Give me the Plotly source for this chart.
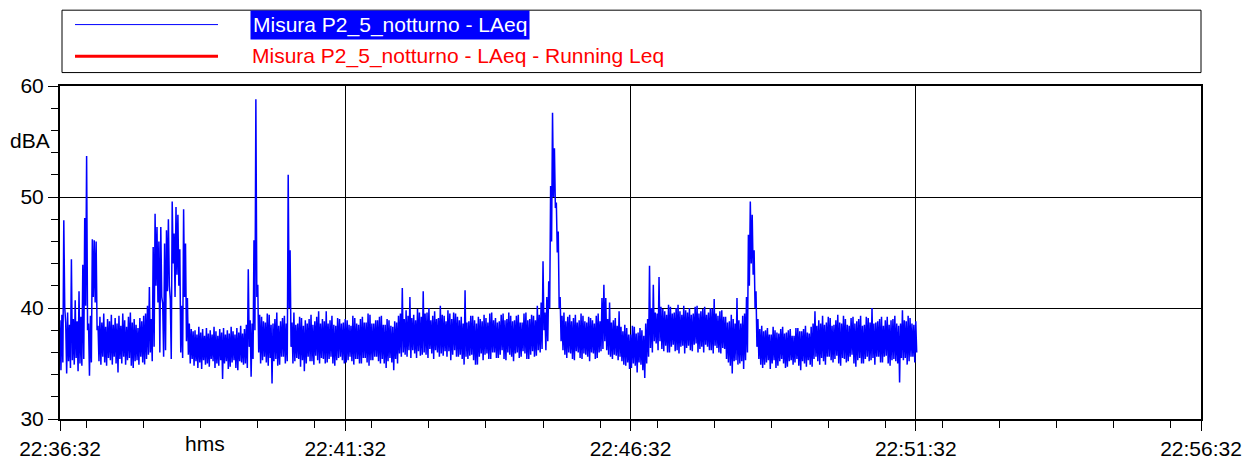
import plotly.graph_objects as go
import pandas as pd

# ---------------- data ----------------
start_time = "2024-01-01 22:36:32"
axis_end = "2024-01-01 22:56:32"
bin_s = 2  # each 2-s bin: upper reading then lower reading

laeq_hi = [
    38.9, 39.4, 47.9, 38.7, 39.6, 38.5, 44.4, 39.0, 40.7, 38.8,
    41.5, 39.2, 43.9, 48.1, 53.7, 38.6, 39.3, 46.2, 46.1, 46.0,
    38.4, 39.2, 38.7, 39.5, 38.3, 39.0, 38.8, 39.4, 38.5, 39.1,
    38.6, 39.3, 38.4, 39.5, 38.9, 38.3, 39.2, 39.6, 38.7, 39.0,
    38.5, 38.2, 39.1, 38.8, 39.3, 39.5, 40.2, 41.9, 39.0, 45.5,
    48.5, 47.3, 46.0, 47.3, 40.4, 45.8, 47.0, 48.0, 40.8, 49.6,
    46.7, 49.1, 48.4, 45.3, 40.2, 48.9, 45.8, 40.9, 38.6, 38.1,
    37.9, 38.0, 37.6, 38.3, 37.8, 38.1, 37.5, 38.2, 37.7, 38.0,
    37.6, 38.3, 37.9, 37.5, 38.1, 37.8, 38.2, 37.6, 38.0, 37.7,
    38.3, 37.9, 37.6, 38.2, 37.8, 38.4, 37.7, 38.1, 38.5, 43.5,
    38.9, 38.6, 46.1, 58.8, 42.1, 39.4, 39.2, 38.8, 38.7, 39.5,
    39.4, 38.5, 38.6, 39.0, 39.6, 38.4, 38.8, 39.1, 39.3, 38.6,
    52.0, 45.2, 38.7, 39.6, 38.5, 38.6, 39.2, 39.1, 38.4, 38.9,
    38.6, 39.0, 39.4, 38.5, 38.8, 39.2, 39.7, 38.6, 39.0, 38.8,
    39.7, 38.6, 38.9, 39.3, 38.5, 38.4, 39.1, 39.0, 38.6, 38.7,
    39.0, 38.9, 38.5, 38.4, 39.3, 39.1, 38.6, 38.5, 39.0, 39.2,
    38.7, 38.7, 39.5, 39.4, 38.6, 38.6, 38.9, 38.9, 39.2, 39.3,
    38.5, 38.5, 39.0, 38.9, 38.4, 38.3, 38.8, 38.7, 39.3, 39.5,
    41.8, 39.0, 39.8, 39.3, 41.0, 39.1, 39.4, 38.9, 39.9, 39.6,
    39.2, 41.5, 39.5, 39.6, 40.0, 38.9, 39.3, 39.7, 39.0, 39.1,
    40.2, 39.4, 39.3, 38.8, 39.8, 39.5, 39.0, 39.6, 39.5, 39.2,
    38.9, 39.2, 38.6, 41.6, 38.7, 38.8, 39.3, 39.3, 38.9, 38.6,
    39.2, 39.0, 38.8, 39.4, 39.1, 38.7, 39.5, 39.6, 38.9, 39.1,
    38.7, 38.8, 39.4, 39.5, 38.9, 39.0, 39.6, 39.3, 38.8, 38.9,
    39.3, 39.4, 38.7, 38.7, 39.5, 39.6, 38.9, 39.0, 39.4, 39.3,
    38.9, 40.2, 39.4, 40.5, 44.2, 39.6, 41.0, 42.4, 51.0, 57.6,
    54.4, 49.5, 46.9, 41.0, 39.3, 39.6, 38.8, 39.2, 39.4, 38.8,
    39.1, 39.4, 38.7, 38.9, 39.5, 39.3, 38.8, 38.7, 39.2, 39.1,
    38.9, 38.6, 39.3, 39.5, 38.8, 40.9, 42.1, 40.9, 39.0, 40.5,
    38.7, 38.9, 39.1, 38.4, 39.7, 38.3, 37.9, 38.5, 38.2, 37.6,
    37.6, 38.4, 38.3, 37.7, 37.8, 38.2, 38.0, 37.5, 38.6, 39.0,
    43.8, 40.0, 42.1, 39.6, 39.5, 42.8, 40.1, 39.9, 39.7, 39.4,
    40.3, 40.1, 39.5, 39.6, 40.0, 40.3, 39.7, 39.4, 40.2, 39.8,
    39.6, 40.0, 39.4, 39.5, 40.1, 40.2, 39.5, 39.7, 39.9, 40.1,
    39.4, 39.6, 40.0, 39.9, 40.8, 39.5, 39.3, 39.7, 39.8, 39.2,
    39.2, 38.7, 38.8, 39.4, 39.0, 38.6, 40.9, 38.9, 38.6, 39.3,
    39.5, 41.0, 46.6, 49.6, 48.4, 45.2, 41.5, 39.0, 38.1, 38.4,
    37.9, 38.0, 38.2, 37.6, 37.6, 38.3, 38.0, 37.8, 37.7, 38.1,
    38.3, 37.7, 37.8, 38.0, 38.1, 37.5, 37.5, 38.2, 38.2, 37.9,
    37.9, 38.1, 38.4, 37.8, 37.7, 38.3, 38.6, 39.7, 38.4, 38.9,
    38.6, 39.3, 38.5, 38.7, 39.2, 39.1, 38.4, 38.5, 38.9, 39.4,
    38.7, 38.6, 39.3, 39.0, 38.5, 38.4, 39.1, 39.2, 38.6, 38.8,
    39.0, 39.3, 38.4, 38.5, 39.2, 39.1, 38.7, 40.0, 38.6, 38.7,
    38.8, 39.0, 39.2, 38.4, 38.9, 39.2, 38.5, 38.9, 39.0, 39.3,
    38.6, 38.4, 38.6, 39.8, 38.9, 38.8, 39.3, 39.1, 38.6, 38.5,
    38.8,
]

laeq_lo = [
    34.4, 35.1, 40.0, 34.1, 35.2, 34.6, 35.3, 34.9, 35.5, 34.3,
    35.0, 34.8, 35.4, 40.2, 38.0, 33.9, 35.1, 41.0, 40.5, 38.0,
    35.2, 34.9, 35.6, 35.1, 34.8, 35.5, 35.3, 34.9, 35.6, 35.0,
    34.2, 35.4, 35.0, 35.6, 34.9, 35.3, 35.5, 34.8, 34.6, 35.2,
    35.3, 34.9, 35.6, 35.1, 34.9, 35.4, 35.8, 36.0, 35.2, 36.5,
    42.0, 40.5, 36.0, 41.0, 35.6, 36.2, 41.5, 42.0, 35.4, 44.0,
    41.0, 43.0, 42.0, 36.0, 35.5, 41.0, 37.0, 35.8, 35.0, 35.4,
    34.8, 35.2, 34.6, 35.1, 34.5, 35.3, 34.9, 35.0, 34.7, 35.4,
    35.2, 34.6, 35.0, 34.8, 35.3, 33.6, 35.0, 35.2, 34.5, 34.7,
    35.1, 35.3, 34.6, 34.4, 35.2, 35.1, 34.9, 35.0, 34.6, 36.5,
    33.8, 35.4, 38.0, 41.0, 36.0, 35.0, 35.3, 35.6, 35.1, 34.8,
    35.5, 33.2, 35.2, 35.4, 34.8, 34.9, 35.6, 35.6, 35.0, 35.2,
    40.0, 36.5, 35.0, 35.2, 35.5, 35.4, 34.7, 35.3, 34.3, 35.0,
    35.6, 35.2, 35.2, 34.9, 35.7, 35.3, 35.0, 35.5, 35.4, 35.0,
    35.1, 35.4, 35.6, 35.0, 34.8, 35.3, 35.5, 35.6, 35.3, 35.0,
    35.1, 35.3, 35.6, 35.2, 34.9, 35.4, 35.4, 35.0, 35.0, 35.5,
    35.5, 35.1, 34.8, 35.3, 35.3, 35.6, 35.6, 35.2, 35.0, 35.4,
    35.0, 34.6, 35.2, 35.5, 35.1, 34.4, 35.4, 35.0, 35.9, 35.6,
    36.0, 35.8, 35.6, 36.2, 35.5, 36.2, 35.9, 35.5, 36.1, 35.7,
    35.8, 36.0, 35.8, 35.5, 36.3, 35.9, 35.4, 36.2, 36.0, 35.6,
    35.9, 35.7, 36.1, 35.6, 36.1, 35.3, 35.8, 36.2, 35.6, 35.6,
    35.8, 35.4, 34.9, 35.6, 35.4, 35.7, 35.8, 35.3, 34.9, 34.9,
    35.6, 35.9, 35.3, 35.8, 35.9, 35.4, 35.4, 36.0, 36.0, 35.5,
    35.5, 35.8, 36.2, 35.4, 35.3, 36.0, 35.8, 35.6, 35.2, 35.9,
    36.0, 35.5, 35.6, 36.1, 35.9, 35.4, 35.4, 35.8, 36.1, 35.6,
    35.7, 36.2, 36.0, 36.3, 38.0, 36.2, 37.0, 40.0, 46.0, 50.0,
    49.0, 45.0, 40.0, 37.0, 36.2, 35.8, 35.5, 36.0, 35.9, 35.4,
    35.3, 36.1, 36.0, 35.5, 35.4, 35.9, 35.8, 35.6, 35.2, 36.0,
    35.9, 35.4, 35.5, 36.0, 36.1, 36.3, 37.0, 36.2, 35.8, 35.6,
    35.4, 35.8, 35.7, 35.3, 35.6, 35.2, 34.9, 34.8, 35.1, 34.5,
    34.6, 35.0, 34.8, 34.2, 35.1, 34.9, 34.4, 33.7, 35.0, 35.6,
    36.4, 36.0, 37.0, 36.8, 36.2, 37.0, 36.3, 36.1, 36.6, 36.0,
    36.0, 36.5, 36.7, 36.1, 36.2, 35.9, 36.5, 36.6, 35.9, 36.4,
    36.6, 36.2, 36.1, 36.7, 36.8, 36.0, 36.3, 36.5, 36.0, 36.7,
    36.5, 36.2, 36.2, 35.9, 36.6, 36.4, 36.0, 35.9, 36.4, 36.3,
    35.4, 35.1, 34.8, 34.1, 35.2, 35.3, 34.9, 35.0, 35.2, 34.5,
    35.3, 36.0, 42.0, 44.0, 43.0, 40.0, 36.5, 35.4, 34.9, 34.6,
    34.9, 35.1, 35.3, 34.5, 35.0, 35.3, 34.6, 34.8, 35.2, 35.4,
    35.0, 34.6, 34.7, 35.2, 35.3, 34.9, 35.1, 35.4, 34.8, 34.4,
    35.2, 35.0, 34.7, 35.3, 34.9, 34.7, 35.4, 35.6, 35.2, 34.9,
    35.5, 35.2, 34.9, 35.6, 35.6, 35.3, 35.1, 35.4, 35.7, 35.0,
    34.8, 35.5, 35.4, 35.1, 35.2, 35.6, 35.8, 35.0, 34.7, 35.3,
    35.5, 35.0, 35.0, 35.4, 35.6, 35.2, 35.3, 35.5, 34.9, 35.6,
    35.6, 35.1, 35.1, 35.6, 35.7, 35.0, 34.8, 35.3, 35.4, 35.2,
    35.0, 33.3, 35.5, 35.3, 35.5, 34.9, 35.2, 35.6, 35.6, 35.1,
    36.0,
]

y_ticks = [30, 40, 50, 60]
series_name = "Misura P2_5_notturno - LAeq"
running_name = "Misura P2_5_notturno - LAeq - Running Leq"
x_unit = "hms"
y_unit = "dBA"

# interleave: upper reading at start of each bin, lower reading 1 s later
t0 = pd.Timestamp(start_time)
xs, ys = [], []
for i, (h, l) in enumerate(zip(laeq_hi, laeq_lo)):
    xs.append(t0 + pd.Timedelta(seconds=i * bin_s))
    ys.append(h)
    xs.append(t0 + pd.Timedelta(seconds=i * bin_s + 1))
    ys.append(l)

# ---------------- layout helpers (pixel -> paper) ----------------
W, H = 1259, 472
L, R, T, B = 60, 1201, 86, 433


def px(x):
    return (x - L) / (R - L)


def py(y):
    return (B - y) / (B - T)


FONT = "Liberation Sans, Arial, sans-serif"

fig = go.Figure()
fig.add_trace(go.Scatter(
    x=xs, y=ys, mode="lines",
    line=dict(color="#0000ff", width=1.5, simplify=False),
    name=series_name, showlegend=False, hoverinfo="x+y",
))

fig.update_layout(
    width=W, height=H,
    margin=dict(l=L, r=W - R, t=T, b=H - B),
    paper_bgcolor="white", plot_bgcolor="white",
    font=dict(family=FONT, size=21, color="black"),
    showlegend=False,
)

fig.update_xaxes(
    type="date",
    range=[start_time, axis_end],
    tick0=start_time, dtick=300000,
    tickformat="%H:%M:%S",
    ticks="outside", ticklen=10, tickwidth=1, tickcolor="black",
    showgrid=True, gridcolor="black", gridwidth=1.2,
    showline=True, linecolor="black", linewidth=2, mirror=True,
    zeroline=False,
    tickfont=dict(family=FONT, size=21, color="black"),
    minor=dict(dtick=60000, ticks="outside", ticklen=7, tickcolor="black", showgrid=False),
)
fig.update_yaxes(
    range=[30, 60],
    tickvals=y_ticks,
    ticks="outside", ticklen=10, tickwidth=1, tickcolor="black",
    showgrid=True, gridcolor="black", gridwidth=1.2,
    showline=True, linecolor="black", linewidth=2, mirror=True,
    zeroline=False,
    tickfont=dict(family=FONT, size=21, color="black"),
    minor=dict(dtick=2, ticks="outside", ticklen=7, tickcolor="black", showgrid=False),
)

shapes = []
annotations = []

# legend box
shapes.append(dict(type="rect", xref="paper", yref="paper",
                   x0=px(62), x1=px(1201), y0=py(72), y1=py(7),
                   line=dict(color="black", width=1), fillcolor="white", layer="above"))
shapes.append(dict(type="line", xref="paper", yref="paper",
                   x0=px(75), x1=px(218), y0=py(22), y1=py(22),
                   line=dict(color="#0000ff", width=1)))
shapes.append(dict(type="line", xref="paper", yref="paper",
                   x0=px(75), x1=px(218), y0=py(55), y1=py(55),
                   line=dict(color="#ff0000", width=3)))
annotations.append(dict(xref="paper", yref="paper", x=px(250), y=py(22),
                        xanchor="left", yanchor="middle", showarrow=False,
                        text=series_name, bgcolor="#0000ff", borderpad=2,
                        font=dict(family=FONT, size=21, color="white")))
annotations.append(dict(xref="paper", yref="paper", x=px(250), y=py(55),
                        xanchor="left", yanchor="middle", showarrow=False,
                        text=running_name,
                        font=dict(family=FONT, size=21, color="#ff0000")))

# unit labels
annotations.append(dict(xref="paper", yref="paper", x=px(205), y=py(459),
                        xanchor="center", yanchor="middle", showarrow=False,
                        text=x_unit, font=dict(family=FONT, size=21, color="black")))
annotations.append(dict(xref="paper", yref="paper", x=px(30), y=py(143),
                        xanchor="center", yanchor="middle", showarrow=False,
                        text=y_unit, font=dict(family=FONT, size=21, color="black")))

fig.update_layout(shapes=shapes, annotations=annotations)

fig.write_html("out.html")
